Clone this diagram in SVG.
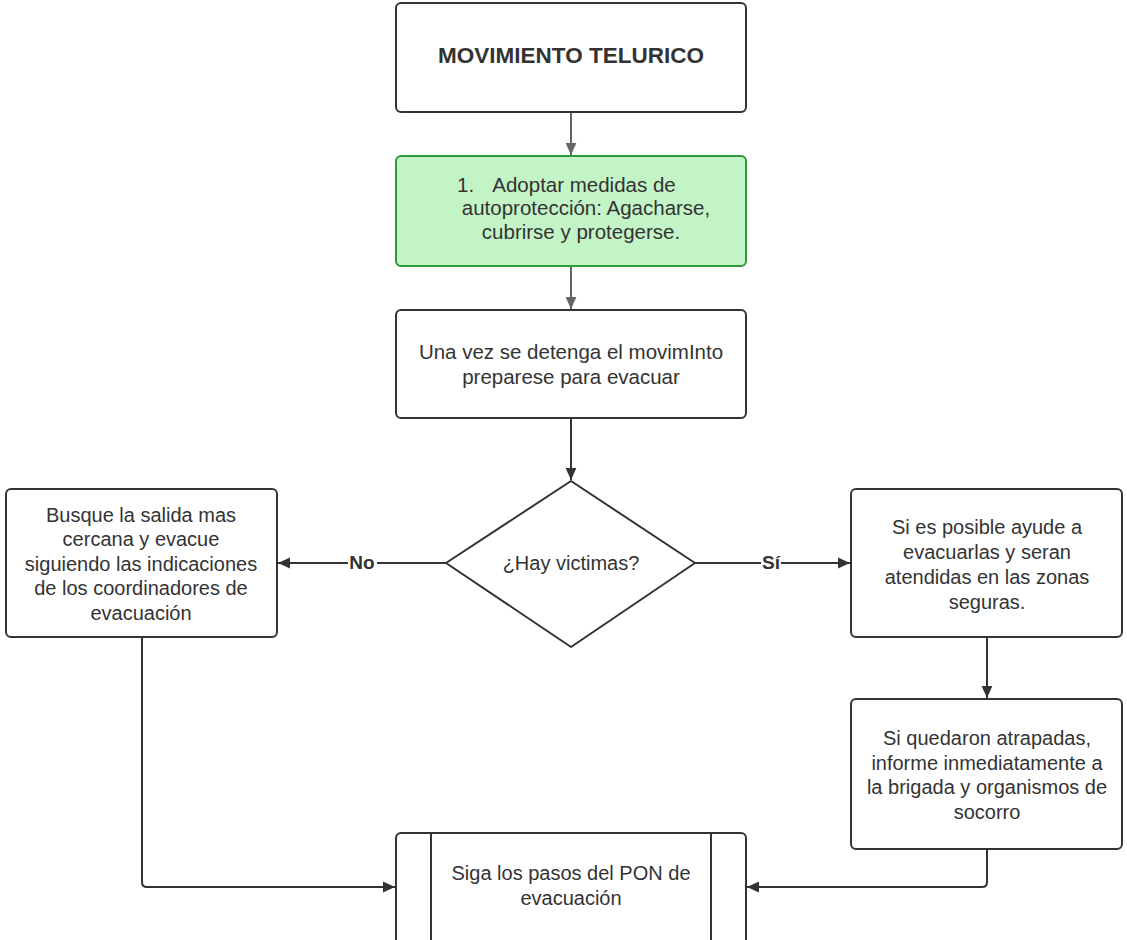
<svg xmlns="http://www.w3.org/2000/svg" width="1127" height="940" viewBox="0 0 1127 940">
  <defs>
    <marker id="arrow" viewBox="0 0 10 10" refX="10" refY="5" markerWidth="12" markerHeight="12" markerUnits="userSpaceOnUse" orient="auto">
      <path d="M0,0.5 L10,5 L0,9.5 z" fill="#333"/>
    </marker>
    <marker id="arrowGray" viewBox="0 0 10 10" refX="10" refY="5" markerWidth="12" markerHeight="12" markerUnits="userSpaceOnUse" orient="auto">
      <path d="M0,0.5 L10,5 L0,9.5 z" fill="#666"/>
    </marker>
    <style>
      .box { fill: #ffffff; stroke: #333333; stroke-width: 2; }
      .green { fill: #c3f4c6; stroke: #2e9a3a; stroke-width: 2; }
      .txt { font-family: "Liberation Sans", Arial, sans-serif; font-size: 20px; fill: #333333; text-anchor: middle; }
      .txt.big { font-size: 20.5px; }
      .txt.start { text-anchor: start; }
      .title { font-family: "Liberation Sans", Arial, sans-serif; font-size: 22.5px; font-weight: bold; fill: #333333; text-anchor: middle; }
      .conn { fill: none; stroke: #333333; stroke-width: 2; }
      .connGray { fill: none; stroke: #666666; stroke-width: 2; }
      .label { font-family: "Liberation Sans", Arial, sans-serif; font-size: 19px; font-weight: bold; fill: #333333; text-anchor: middle; }
    </style>
  </defs>

  <g id="connectors">
    <line class="connGray" x1="571" y1="112" x2="571" y2="155" marker-end="url(#arrowGray)"/>
    <line class="connGray" x1="571" y1="266" x2="571" y2="309" marker-end="url(#arrowGray)"/>
    <line class="conn" x1="571" y1="418" x2="571" y2="480" marker-end="url(#arrow)"/>
    <line class="conn" x1="446" y1="563" x2="278" y2="563" marker-end="url(#arrow)"/>
    <line class="conn" x1="695" y1="563" x2="850" y2="563" marker-end="url(#arrow)"/>
    <line class="conn" x1="987" y1="637" x2="987" y2="698" marker-end="url(#arrow)"/>
    <path class="conn" d="M142,637 L142,882 Q142,887 147,887 L395,887" marker-end="url(#arrow)"/>
    <path class="conn" d="M987,849 L987,882 Q987,887 982,887 L747,887" marker-end="url(#arrow)"/>
    <rect x="348" y="552" width="29" height="22" fill="#ffffff"/>
    <text class="label" x="362" y="569">No</text>
    <rect x="761" y="552" width="20" height="22" fill="#ffffff"/>
    <text class="label" x="771" y="569">Sí</text>
  </g>

  <g id="node-movimiento">
    <rect class="box" x="396" y="3" width="350" height="109" rx="5"/>
    <text class="title" x="571" y="63">MOVIMIENTO TELURICO</text>
  </g>

  <g id="node-autoproteccion">
    <rect class="green" x="396" y="156" width="350" height="110" rx="5"/>
    <text class="txt big start" x="457" y="192">1.</text>
    <text class="txt big" x="584" y="192">Adoptar medidas de</text>
    <text class="txt big" x="586" y="215">autoprotección: Agacharse,</text>
    <text class="txt big" x="581" y="239">cubrirse y protegerse.</text>
  </g>

  <g id="node-preparese">
    <rect class="box" x="396" y="310" width="350" height="108" rx="5"/>
    <text class="txt big" x="571" y="359">Una vez se detenga el movimInto</text>
    <text class="txt big" x="571" y="384">preparese para evacuar</text>
  </g>

  <g id="node-victimas">
    <polygon class="box" points="571,481 695,563 571,647 446,563" stroke-linejoin="round"/>
    <text class="txt" x="571" y="570">¿Hay victimas?</text>
  </g>

  <g id="node-busque">
    <rect class="box" x="6" y="489" width="271" height="148" rx="5"/>
    <text class="txt" x="141" y="522">Busque la salida mas</text>
    <text class="txt" x="141" y="546">cercana y evacue</text>
    <text class="txt" x="141" y="571">siguiendo las indicaciones</text>
    <text class="txt" x="141" y="595">de los coordinadores de</text>
    <text class="txt" x="141" y="620">evacuación</text>
  </g>

  <g id="node-ayude">
    <rect class="box" x="851" y="489" width="271" height="148" rx="5"/>
    <text class="txt" x="987" y="534">Si es posible ayude a</text>
    <text class="txt" x="987" y="559">evacuarlas y seran</text>
    <text class="txt" x="987" y="584">atendidas en las zonas</text>
    <text class="txt" x="987" y="609">seguras.</text>
  </g>

  <g id="node-atrapadas">
    <rect class="box" x="851" y="699" width="271" height="150" rx="5"/>
    <text class="txt" x="987" y="745">Si quedaron atrapadas,</text>
    <text class="txt" x="987" y="770">informe inmediatamente a</text>
    <text class="txt" x="987" y="794">la brigada y organismos de</text>
    <text class="txt" x="987" y="819">socorro</text>
  </g>

  <g id="node-pon">
    <rect class="box" x="396" y="833" width="350" height="120" rx="5"/>
    <line class="conn" x1="431" y1="833" x2="431" y2="940"/>
    <line class="conn" x1="711" y1="833" x2="711" y2="940"/>
    <text class="txt" x="571" y="880">Siga los pasos del PON de</text>
    <text class="txt" x="571" y="905">evacuación</text>
  </g>
</svg>
